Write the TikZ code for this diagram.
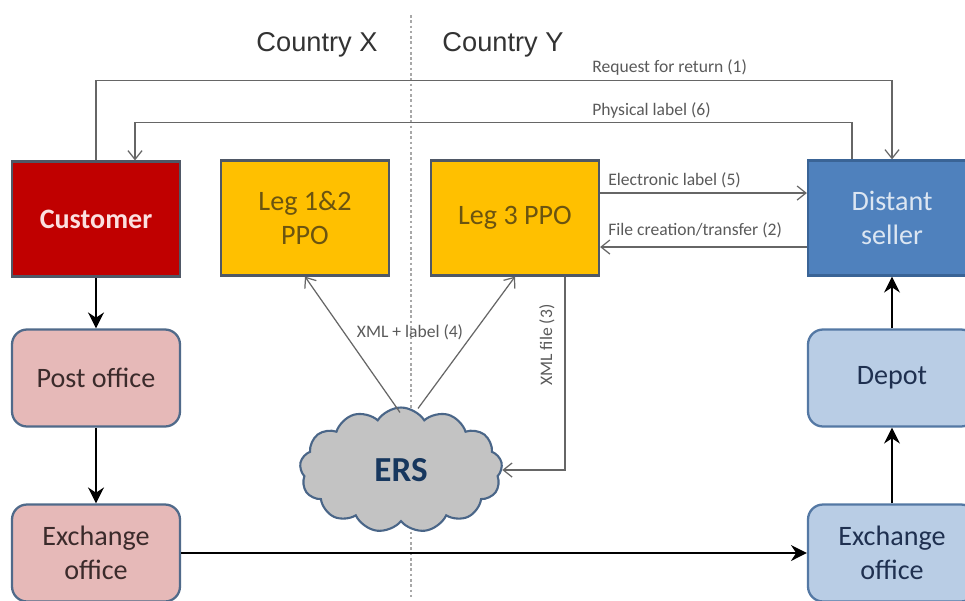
\documentclass[tikz,border=0pt]{standalone}
\usepackage{fontspec}
\setmainfont{Carlito}
\newfontfamily\arialf{Liberation Sans}
\usetikzlibrary{shapes.symbols,arrows.meta,calc}
\definecolor{boxline}{HTML}{4F5866}
\definecolor{custfill}{HTML}{C00000}
\definecolor{custtext}{HTML}{FBE0E0}
\definecolor{legfill}{HTML}{FFC000}
\definecolor{legtext}{HTML}{6B5410}
\definecolor{pinkfill}{HTML}{E6B9B8}
\definecolor{pinkline}{HTML}{506A8A}
\definecolor{pinktext}{HTML}{3B2B2B}
\definecolor{sellfill}{HTML}{4F81BD}
\definecolor{sellline}{HTML}{3A6496}
\definecolor{selltext}{HTML}{DCE6F2}
\definecolor{bluefill}{HTML}{B9CDE5}
\definecolor{blueline}{HTML}{5478A4}
\definecolor{bluetext}{HTML}{1F3050}
\definecolor{cloudfill}{HTML}{C3C3C3}
\definecolor{cloudline}{HTML}{4A6688}
\definecolor{erstext}{HTML}{17375E}
\definecolor{thingray}{HTML}{666666}
\definecolor{lblgray}{HTML}{5A5A5A}
\definecolor{dotgray}{HTML}{A8A8A8}
\definecolor{countrygray}{HTML}{333333}
\begin{document}
\begin{tikzpicture}[x=0.02cm,y=-0.02cm,
  box/.style={draw=boxline,line width=1.3pt,minimum width=3.36cm,minimum height=2.3cm,
    align=center,inner sep=0pt,font=\fontsize{16}{19}\selectfont},
  rbox/.style={box,rounded corners=0.3cm,minimum height=1.94cm},
  thinline/.style={draw=thingray,line width=0.7pt},
  thinarrow/.style={thinline,-{Straight Barb[length=5pt,width=8pt]}},
  thickarrow/.style={draw=black,line width=1.4pt,-{Stealth[length=9pt,width=9pt]}},
  lbl/.style={font=\fontsize{10}{12}\selectfont,text=lblgray,inner sep=0pt},
  country/.style={font=\arialf\fontsize{15.5}{18}\selectfont,text=countrygray}]
\useasboundingbox (0,0) rectangle (965,600);
\fill[white] (0,0) rectangle (965,600);

% country divider
\draw[dotgray,line width=0.8pt,dash pattern=on 1.5pt off 1.5pt] (411,15) -- (411,600);
\node[country] (cx) at (317,45) {Country X};
\node[country] (cy) at (503,45) {Country Y};

% nodes
\node[box,fill=custfill,text=custtext,font=\bfseries\fontsize{16}{19}\selectfont] (cust) at (96,219) {Customer};
\node[box,fill=legfill,text=legtext] (leg12) at (305,218) {Leg 1\&2\\PPO};
\node[box,fill=legfill,text=legtext] (leg3) at (515,218) {Leg 3 PPO};
\node[box,fill=sellfill,draw=sellline,text=selltext] (seller) at (892,218) {Distant\\seller};
\node[rbox,fill=pinkfill,draw=pinkline,text=pinktext] (post) at (96,378) {Post office};
\node[rbox,fill=pinkfill,draw=pinkline,text=pinktext] (exl) at (96,553) {Exchange\\office};
\node[rbox,fill=bluefill,draw=blueline,text=bluetext] (depot) at (892,378) {Depot};
\node[rbox,fill=bluefill,draw=blueline,text=bluetext] (exr) at (892,553) {Exchange\\office};

\node[cloud,cloud puffs=13,cloud puff arc=115,aspect=1.6,draw=cloudline,fill=cloudfill,
  line width=1.2pt,minimum width=4.05cm,minimum height=2.5cm,inner sep=0pt,
  font=\bfseries\fontsize{20}{24}\selectfont,text=erstext] (ers) at (401,470) {ERS};

% thick flow arrows
\draw[thickarrow] (cust) -- (post);
\draw[thickarrow] (post) -- (exl);
\draw[thickarrow] (exl) -- (exr);
\draw[thickarrow] (exr) -- (depot);
\draw[thickarrow] (depot) -- (seller);

% thin information arrows
\draw[thinarrow] (cust.north) -- ++(0,-80) -| (seller.north);
\node[lbl,anchor=west] (l1) at (592,67) {Request for return (1)};
\draw[thinarrow] ($(seller.north)+(-40,0)$) -- ++(0,-37) -| ($(cust.north)+(39,0)$);
\node[lbl,anchor=west] (l6) at (592,110) {Physical label (6)};
\draw[thinarrow] ($(leg3.east)+(0,-25)$) -- ($(seller.west)+(0,-25)$);
\node[lbl,anchor=west] (l5) at (608,180) {Electronic label (5)};
\draw[thinarrow] ($(seller.west)+(0,29)$) -- ($(leg3.east)+(0,29)$);
\node[lbl,anchor=west] (l2) at (608,230) {File creation/transfer (2)};

\coordinate (ea) at ($(ers.north)+(-1,6)$);
\coordinate (eb) at ($(ers.north)+(17,2)$);
\draw[thinarrow] (ea) -- (leg12.south);
\draw[thinarrow] (eb) -- (leg3.south);
\node[lbl] (l4) at (410,332) {XML + label (4)};
\draw[thinarrow] ($(leg3.south)+(50,0)$) |- (ers.east);
\node[lbl,rotate=90] (l3) at (547,345) {XML file (3)};
\end{tikzpicture}
\end{document}
